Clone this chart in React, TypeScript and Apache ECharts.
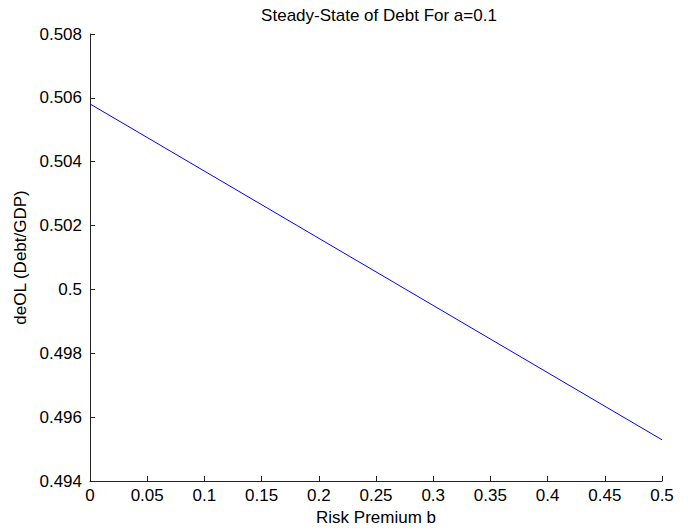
import React, { useEffect, useRef } from "react";
import * as echarts from "echarts";

const titleText = "Steady-State of Debt For a=0.1";
const xName = "Risk Premium b";
const yName = "deOL (Debt/GDP)";
const riskPremium = [0, 0.25, 0.5];
const debtRatio = [0.50581, 0.50055, 0.49529];

const FONT = "'Liberation Sans', Arial, Helvetica, sans-serif";
const FS = 17;

export default function App() {
  const ref = useRef<HTMLDivElement>(null);
  useEffect(() => {
    if (!ref.current) return;
    const chart = echarts.init(ref.current, undefined, { renderer: "svg" });
    const fmt = (v: number) => String(parseFloat(v.toFixed(3)));
    chart.setOption({
      animation: false,
      backgroundColor: "#ffffff",
      title: {
        text: titleText,
        left: 374,
        textAlign: "center",
        top: 2,
        textStyle: { fontFamily: FONT, fontSize: FS, fontWeight: "normal", color: "#000" },
      },
      grid: { left: 90, right: 26, top: 34, bottom: 47, containLabel: false },
      xAxis: {
        type: "value",
        min: 0,
        max: 0.5,
        interval: 0.05,
        name: xName,
        nameLocation: "middle",
        nameGap: 28,
        nameTextStyle: { fontFamily: FONT, fontSize: FS, color: "#000" },
        axisLine: { onZero: false, lineStyle: { color: "#222", width: 1 } },
        axisTick: { inside: true, length: 5, lineStyle: { color: "#222" } },
        axisLabel: { fontFamily: FONT, fontSize: FS, color: "#000", margin: 6, formatter: fmt },
        splitLine: { show: false },
      },
      yAxis: {
        type: "value",
        min: 0.494,
        max: 0.508,
        interval: 0.002,
        name: yName,
        nameLocation: "middle",
        nameRotate: 90,
        nameGap: 61,
        nameTextStyle: { fontFamily: FONT, fontSize: FS, color: "#000" },
        axisLine: { show: true, onZero: false, lineStyle: { color: "#222", width: 1 } },
        axisTick: { show: true, inside: true, length: 5, lineStyle: { color: "#222" } },
        axisLabel: { fontFamily: FONT, fontSize: FS, color: "#000", margin: 8, formatter: fmt },
        splitLine: { show: false },
      },
      series: [
        {
          type: "line",
          data: riskPremium.map((x, i) => [x, debtRatio[i]]),
          showSymbol: false,
          symbol: "none",
          lineStyle: { color: "#0000ff", width: 1 },
        },
      ],
    });
    return () => chart.dispose();
  }, []);
  return <div ref={ref} style={{ width: 688, height: 531, position: "absolute", left: 0, top: 0 }} />;
}
